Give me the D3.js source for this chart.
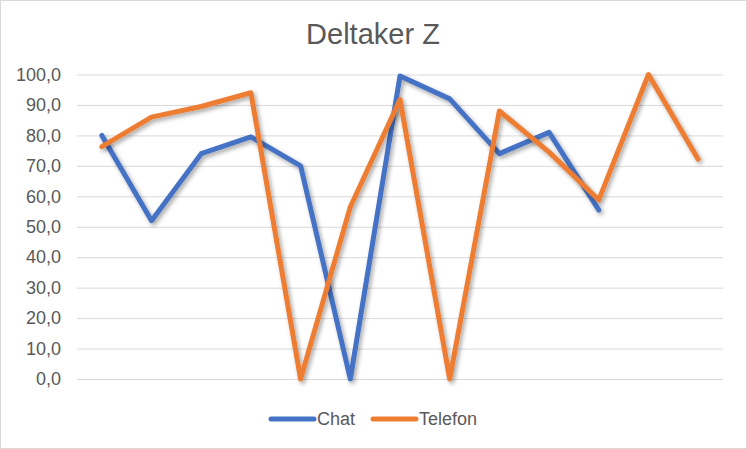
<!DOCTYPE html>
<html><head><meta charset="utf-8">
<script src="https://cdn.jsdelivr.net/npm/d3@7"></script>
<style>body{margin:0;background:#fff}svg{display:block;font-family:Arial,"Liberation Sans",sans-serif}</style>
</head><body>
<script>
const categories = ["1","2","3","4","5","6","7","8","9","10","11","12","13"];
const chat =    [80, 52, 74, 79.5, 70, 0, 99.5, 92, 74, 81, 55.5, null, null];
const telefon = [76.3, 86, 89.5, 94, 0, 56.5, 91.8, 0, 88, 74.5, 58.8, 100, 72.2];
const yTicks = [0,10,20,30,40,50,60,70,80,90,100];
const seriesNames = ["Chat","Telefon"];
const colors = ["#4472C4","#ED7D31"];

const W=747,H=449;
const svg=d3.select("body").append("svg").attr("width",W).attr("height",H);
const defs=svg.append("defs");
const f=defs.append("filter").attr("id","sh").attr("x","-10%").attr("y","-10%").attr("width","130%").attr("height","130%");
f.append("feDropShadow").attr("dx",2).attr("dy",2.5).attr("stdDeviation",2).attr("flood-color","#000").attr("flood-opacity",0.35);

svg.append("rect").attr("x",0.5).attr("y",0.5).attr("width",W-1).attr("height",H-1).attr("fill","#fff").attr("stroke","#d9d9d9").attr("stroke-width",1);

const x=d3.scaleBand().domain(categories).range([77,723]);
const y=d3.scaleLinear().domain([0,100]).range([379,74.5]);

svg.append("text").attr("x",373).attr("y",44).attr("text-anchor","middle").attr("font-size",29).attr("fill","#595959").text("Deltaker Z");

const yAxis=d3.axisLeft(y).tickValues(yTicks).tickSize(-(723-77)).tickFormat(d=>d.toFixed(1).replace(".",","));
const ga=svg.append("g").attr("transform","translate(77,0)").call(yAxis);
ga.select(".domain").remove();
ga.selectAll(".tick line").attr("stroke","#d9d9d9").attr("stroke-width",1);
ga.selectAll(".tick text").attr("x",-16).attr("font-size",18).attr("fill","#595959").attr("font-family","Arial,'Liberation Sans',sans-serif");

const line=d3.line().defined(d=>d.v!=null).x(d=>x(d.c)+x.bandwidth()/2).y(d=>y(d.v));
[chat,telefon].forEach((s,i)=>{
  svg.append("path").datum(categories.map((c,j)=>({c,v:s[j]})))
    .attr("d",line).attr("fill","none").attr("stroke",colors[i]).attr("stroke-width",5)
    .attr("stroke-linejoin","round").attr("stroke-linecap","round").attr("filter","url(#sh)");
});

const legX=[271,373];
seriesNames.forEach((n,i)=>{
  const g=svg.append("g");
  g.append("line").attr("x1",legX[i]).attr("x2",legX[i]+43).attr("y1",419).attr("y2",419).attr("stroke",colors[i]).attr("stroke-width",5).attr("stroke-linecap","round");
  g.append("text").attr("x",legX[i]+46).attr("y",425).attr("font-size",18).attr("fill","#595959").text(n);
});
</script>
</body></html>
